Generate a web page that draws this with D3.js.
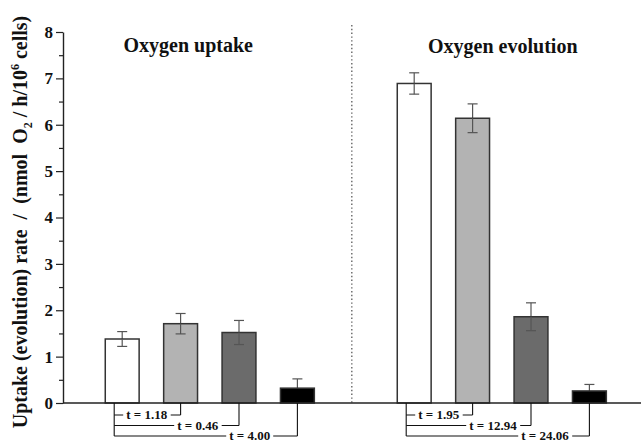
<!DOCTYPE html>
<html>
<head>
<meta charset="utf-8">
<script src="https://cdn.jsdelivr.net/npm/d3@7"></script>
<style>
  html, body { margin: 0; padding: 0; background: #fff; }
  svg text { font-family: "Liberation Serif", "Times New Roman", serif; font-weight: bold; }
</style>
</head>
<body>
<div id="chart"></div>
<script>
// bars, left to right ("gap" is the empty slot under the dotted divider)
const categories = ["up1", "up2", "up3", "up4", "gap", "ev1", "ev2", "ev3", "ev4"];
const rates  = [1.38, 1.71, 1.52, 0.32, null, 6.89, 6.14, 1.86, 0.26];
const errors = [0.16, 0.22, 0.26, 0.20, null, 0.23, 0.31, 0.30, 0.14];
const fills  = ["#ffffff", "#b3b3b3", "#6b6b6b", "#000000", null, "#ffffff", "#b3b3b3", "#6b6b6b", "#000000"];

const groupTitles = ["Oxygen uptake", "Oxygen evolution"];
const yTicks = [0, 1, 2, 3, 4, 5, 6, 7, 8];

// t-test brackets: from the first bar of a group to bar "to"
const tests = [
  { from: "up1", to: "up2", label: "t = 1.18" },
  { from: "up1", to: "up3", label: "t = 0.46" },
  { from: "up1", to: "up4", label: "t = 4.00" },
  { from: "ev1", to: "ev2", label: "t = 1.95" },
  { from: "ev1", to: "ev3", label: "t = 12.94" },
  { from: "ev1", to: "ev4", label: "t = 24.06" }
];

const W = 642, H = 444;
const svg = d3.select("#chart").append("svg")
  .attr("width", W)
  .attr("height", H);

// scales
const x = d3.scaleBand()
  .domain(categories)
  .range([93, 618.6])
  .paddingInner(0.42)
  .paddingOuter(0.21);

const y = d3.scaleLinear()
  .domain([0, 8])
  .range([403, 32]);

const axisLeftX = 63;
const cx = c => x(c) + x.bandwidth() / 2;

// y axis: minor ticks first, then major ticks with labels
svg.append("g")
  .attr("transform", `translate(${axisLeftX},0)`)
  .call(d3.axisLeft(y).tickValues(d3.range(0.5, 8, 1)).tickSize(4).tickFormat(""))
  .call(g => g.select(".domain").remove())
  .call(g => g.selectAll("line").attr("stroke", "#222").attr("stroke-width", 1.2));

svg.append("g")
  .attr("transform", `translate(${axisLeftX},0)`)
  .call(d3.axisLeft(y).tickValues(yTicks).tickSize(7).tickSizeOuter(0).tickFormat(d3.format("d")))
  .call(g => g.select(".domain").attr("stroke", "#222").attr("stroke-width", 1.4))
  .call(g => g.selectAll("line").attr("stroke", "#222").attr("stroke-width", 1.2))
  .call(g => g.selectAll("text")
    .attr("x", -10)
    .attr("font-size", "17px")
    .attr("fill", "#111"));

// y axis title
const yTitle = svg.append("text")
  .attr("transform", `translate(27,222) rotate(-90)`)
  .attr("text-anchor", "middle")
  .attr("font-size", "20px")
  .attr("fill", "#111")
  .style("white-space", "pre");
yTitle.append("tspan").text("Uptake (evolution) rate  /  (nmol  O");
yTitle.append("tspan").attr("font-size", "12px").attr("dy", 5).text("2");
yTitle.append("tspan").attr("dy", -5).text(" / h/10");
yTitle.append("tspan").attr("font-size", "12px").attr("dy", -8).text("6");
yTitle.append("tspan").attr("dy", 8).text(" cells)");

// dotted divider between the two groups
svg.append("line")
  .attr("x1", cx("gap") - 4).attr("x2", cx("gap") - 4)
  .attr("y1", 25).attr("y2", y(0))
  .attr("stroke", "#666")
  .attr("stroke-width", 1.4)
  .attr("stroke-dasharray", "1.4,2.4");

// group titles
svg.append("text")
  .attr("x", cx("up1") + 66)
  .attr("y", 52)
  .attr("text-anchor", "middle")
  .attr("font-size", "20px")
  .attr("fill", "#111")
  .text(groupTitles[0]);

svg.append("text")
  .attr("x", (cx("ev1") + cx("ev4")) / 2 + 1)
  .attr("y", 53)
  .attr("text-anchor", "middle")
  .attr("font-size", "20px")
  .attr("fill", "#111")
  .text(groupTitles[1]);

// bars
const barData = categories.map((c, i) => ({ cat: c, value: rates[i], err: errors[i], fill: fills[i] }))
  .filter(d => d.value !== null);

// upper error whiskers (drawn first; bars cover the part below the bar top)
const eb = svg.selectAll(".err")
  .data(barData)
  .join("g")
  .attr("class", "err")
  .attr("stroke", "#555")
  .attr("stroke-width", 1.2);

eb.append("line")
  .attr("x1", d => cx(d.cat)).attr("x2", d => cx(d.cat))
  .attr("y1", d => y(d.value + d.err)).attr("y2", d => y(d.value));
eb.append("line")
  .attr("x1", d => cx(d.cat) - 5).attr("x2", d => cx(d.cat) + 5)
  .attr("y1", d => y(d.value + d.err)).attr("y2", d => y(d.value + d.err));

svg.selectAll(".bar")
  .data(barData)
  .join("rect")
  .attr("class", "bar")
  .attr("x", d => x(d.cat))
  .attr("y", d => y(d.value))
  .attr("width", x.bandwidth())
  .attr("height", d => y(0) - y(d.value))
  .attr("fill", d => d.fill)
  .attr("stroke", "#333")
  .attr("stroke-width", 1.5);

// lower whiskers on top of the bars (invisible on black bars)
svg.selectAll(".errLow")
  .data(barData.filter(d => d.fill !== "#000000"))
  .join("g")
  .attr("class", "errLow")
  .attr("stroke", "#555")
  .attr("stroke-width", 1.2)
  .each(function(d) {
    const g = d3.select(this);
    g.append("line")
      .attr("x1", cx(d.cat)).attr("x2", cx(d.cat))
      .attr("y1", y(d.value)).attr("y2", y(d.value - d.err));
    g.append("line")
      .attr("x1", cx(d.cat) - 5).attr("x2", cx(d.cat) + 5)
      .attr("y1", y(d.value - d.err)).attr("y2", y(d.value - d.err));
  });

// x axis line
svg.append("line")
  .attr("x1", axisLeftX).attr("x2", 641)
  .attr("y1", y(0)).attr("y2", y(0))
  .attr("stroke", "#222")
  .attr("stroke-width", 1.4);

// t-test brackets under the axis
const levelY = [415, 425.5, 436];
const textStart = [12, 63, 115];
const groups = [tests.slice(0, 3), tests.slice(3)];

groups.forEach(list => {
  const left = cx(list[0].from) - 8;
  const br = svg.append("g").attr("stroke", "#111").attr("stroke-width", 1.1);
  br.append("line")
    .attr("x1", left).attr("x2", left)
    .attr("y1", y(0)).attr("y2", levelY[2]);

  list.forEach((t, k) => {
    const right = cx(t.to);
    br.append("line")
      .attr("x1", left).attr("x2", right)
      .attr("y1", levelY[k]).attr("y2", levelY[k]);
    br.append("line")
      .attr("x1", right).attr("x2", right)
      .attr("y1", y(0)).attr("y2", levelY[k]);

    const txt = svg.append("text")
      .attr("x", left + textStart[k])
      .attr("y", levelY[k] + 4.3)
      .attr("font-size", "13px")
      .attr("fill", "#111")
      .text(t.label);
    const bb = txt.node().getBBox();
    svg.insert("rect", () => txt.node())
      .attr("x", bb.x - 3)
      .attr("y", levelY[k] - 2)
      .attr("width", bb.width + 6)
      .attr("height", 4)
      .attr("fill", "#fff");
  });
});
</script>
</body>
</html>
